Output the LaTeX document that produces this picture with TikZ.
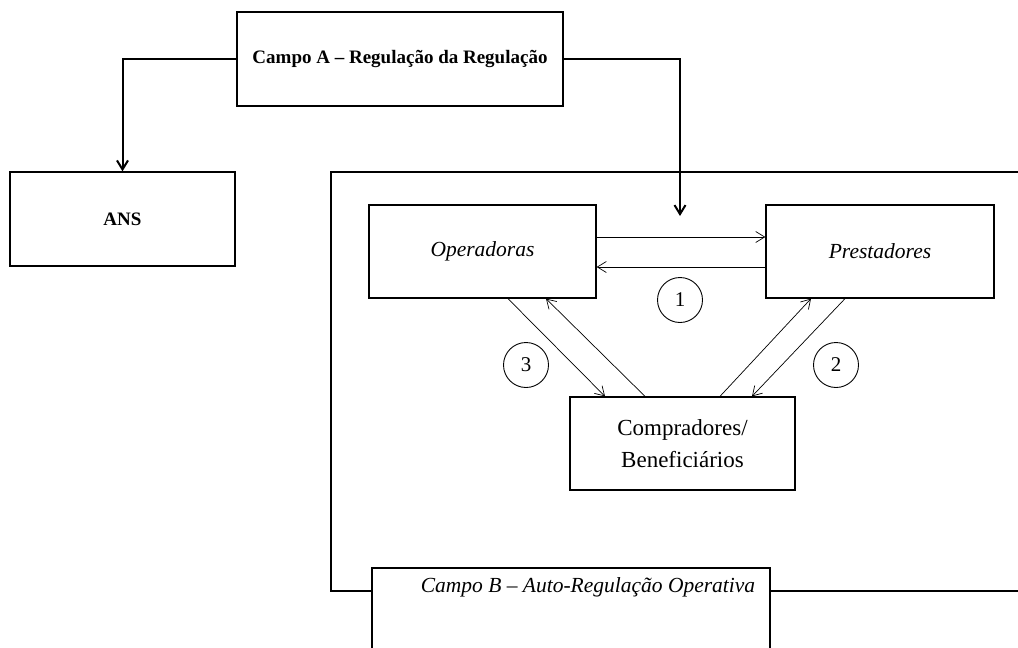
\documentclass[tikz,border=0pt]{standalone}
\usepackage{fontspec}
\setmainfont{Liberation Serif}
\usetikzlibrary{arrows.meta}
\begin{document}
\begin{tikzpicture}[x=1pt,y=-1pt,
  box/.style={draw,line width=1.3pt,rectangle,inner sep=0pt,align=center},
  boldtxt/.style={font=\fontsize{19}{23}\selectfont\bfseries},
  italtxt/.style={font=\fontsize{21.5}{26}\selectfont\itshape},
  regtxt/.style={font=\fontsize{23}{32}\selectfont},
  num/.style={draw,circle,line width=0.9pt,minimum size=45pt,inner sep=0pt,font=\fontsize{21}{25}\selectfont},
  bigarrow/.style={line width=2pt,-{Straight Barb[length=9pt,width=11pt]}},
  thinarrow/.style={line width=0.7pt,-{Straight Barb[length=9pt,width=11pt]}},
  frame/.style={line width=1.3pt}]
\clip (0,0) rectangle (1018,648);
\useasboundingbox (0,0) rectangle (1018,648);
\fill[white] (0,0) rectangle (1018,648);
% nodes
\node[box,boldtxt,minimum width=326pt,minimum height=94pt] (A) at (400,59) {Campo A – Regulação da Regulação};
\node[box,boldtxt,minimum width=225pt,minimum height=94pt] (ans) at (122.5,219) {ANS};
\node[box,italtxt,minimum width=227pt,minimum height=93pt] (op) at (482.5,251.5) {Operadoras};
\node[box,italtxt,minimum width=228pt,minimum height=93pt] (pr) at (880,251.5) {Prestadores};
\node[box,regtxt,minimum width=225pt,minimum height=93pt] (comp) at (682.5,443.5) {Compradores/\\Beneficiários};
% frame
\draw[frame] (372,591) -- (331,591) -- (331,172) -- (1030,172);
\draw[frame] (770,591) -- (1030,591);
\draw[frame,fill=white] (372,568) rectangle (770,700);
\node[italtxt] (B) at (588,587) {Campo B – Auto-Regulação Operativa};
% circles
\node[num] (c1) at (680,300) {1};
\node[num] (c2) at (836,365) {2};
\node[num] (c3) at (526,365) {3};
% connectors from Campo A
\coordinate (aend) at (680,216);
\draw[bigarrow] (A.west) -| (ans.north);
\draw[bigarrow] (A.east) -| (aend);
% thin arrows
\draw[thinarrow] ([yshift=14.5pt]op.east) -- ([yshift=14.5pt]pr.west);
\draw[thinarrow] ([yshift=-15.5pt]pr.west) -- ([yshift=-15.5pt]op.east);
\draw[thinarrow] ([xshift=25.5pt]op.south) -- ([xshift=-77.5pt]comp.north);
\draw[thinarrow] ([xshift=-37.5pt]comp.north) -- ([xshift=63.5pt]op.south);
\draw[thinarrow] ([xshift=37.5pt]comp.north) -- ([xshift=-69pt]pr.south);
\draw[thinarrow] ([xshift=-35pt]pr.south) -- ([xshift=69.5pt]comp.north);
\end{tikzpicture}
\end{document}
